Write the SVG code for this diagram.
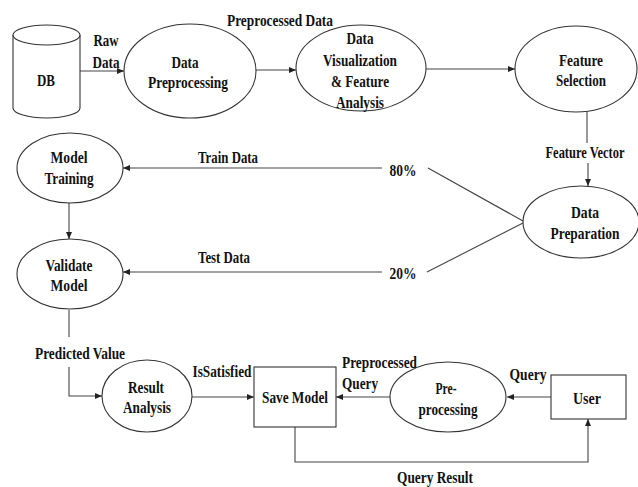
<svg xmlns="http://www.w3.org/2000/svg" width="638" height="487" viewBox="0 0 638 487">
<defs>
<marker id="ah" markerUnits="userSpaceOnUse" markerWidth="7" markerHeight="6" refX="7" refY="3" orient="auto">
<path d="M0,0 L7,3 L0,6 z" fill="#222"/>
</marker>
<style>
.s{fill:#fff;stroke:#333;stroke-width:1.1}
.c{fill:none;stroke:#444;stroke-width:1.1}
.a{marker-end:url(#ah)}
text{font-weight:bold;font-size:16px;fill:#111;text-anchor:middle;dominant-baseline:central}
.l{text-anchor:start}
</style>
</defs>
<rect width="638" height="487" fill="#fff"/>
<g id="connectors">
<path class="c a" d="M80,71 H124"/>
<path class="c a" d="M255,70 H296"/>
<path class="c a" d="M426,69 H515"/>
<path class="c" d="M587,112 V143"/>
<path class="c a" d="M588,163 V186"/>
<path class="c" d="M428,168 L523,221"/>
<path class="c" d="M427,272 L523,223"/>
<path class="c a" d="M382,168 H123"/>
<path class="c a" d="M382,272 H123"/>
<path class="c a" d="M69,203 V239"/>
<path class="c" d="M69,310 V337"/>
<path class="c a" d="M69,367 V396 H102"/>
<path class="c a" d="M192,397 H254"/>
<path class="c a" d="M390,397 H336"/>
<path class="c a" d="M551,397 H507"/>
<path class="c a" d="M295,427 V462 H588 V419"/>
</g>
<g font-family="'Liberation Serif', 'Times New Roman', serif">
<g id="labels">
<text x="106" y="40" textLength="25" lengthAdjust="spacingAndGlyphs">Raw</text>
<text x="106" y="62" textLength="27" lengthAdjust="spacingAndGlyphs">Data</text>
<text x="280" y="20" textLength="106" lengthAdjust="spacingAndGlyphs">Preprocessed Data</text>
<text transform="translate(585,152) scale(0.78,1)" x="0" y="0">Feature Vector</text>
<text x="403" y="170" textLength="27" lengthAdjust="spacingAndGlyphs">80%</text>
<text x="403" y="273" textLength="27" lengthAdjust="spacingAndGlyphs">20%</text>
<text x="228" y="157" textLength="60" lengthAdjust="spacingAndGlyphs">Train Data</text>
<text x="224" y="257" textLength="52" lengthAdjust="spacingAndGlyphs">Test Data</text>
<text x="80" y="353" textLength="90" lengthAdjust="spacingAndGlyphs">Predicted Value</text>
<text x="222" y="371" textLength="59" lengthAdjust="spacingAndGlyphs">IsSatisfied</text>
<text class="l" x="342" y="362" textLength="75" lengthAdjust="spacingAndGlyphs">Preprocessed</text>
<text class="l" x="342" y="383" textLength="36" lengthAdjust="spacingAndGlyphs">Query</text>
<text x="528" y="374" textLength="37" lengthAdjust="spacingAndGlyphs">Query</text>
<text x="435" y="477" textLength="76" lengthAdjust="spacingAndGlyphs">Query Result</text>
</g>
<g id="db">
<path class="s" d="M13,35 V108 A33.5,10 0 0 0 80,108 V35"/>
<ellipse class="s" cx="46.5" cy="35" rx="33.5" ry="10"/>
<text x="46" y="80" textLength="18" lengthAdjust="spacingAndGlyphs">DB</text>
</g>
<g id="data-preprocessing">
<ellipse class="s" cx="190" cy="71" rx="66" ry="47"/>
<text x="185" y="62" textLength="27" lengthAdjust="spacingAndGlyphs">Data</text>
<text x="188" y="82" textLength="80" lengthAdjust="spacingAndGlyphs">Preprocessing</text>
</g>
<g id="data-visualization">
<ellipse class="s" cx="361" cy="68" rx="65" ry="43"/>
<text x="360" y="38" textLength="27" lengthAdjust="spacingAndGlyphs">Data</text>
<text x="360" y="60" textLength="74" lengthAdjust="spacingAndGlyphs">Visualization</text>
<text x="360" y="81" textLength="58" lengthAdjust="spacingAndGlyphs">&amp; Feature</text>
<text x="360" y="102" textLength="48" lengthAdjust="spacingAndGlyphs">Analysis</text>
</g>
<g id="feature-selection">
<ellipse class="s" cx="576" cy="69" rx="61" ry="43"/>
<text x="581" y="60" textLength="44" lengthAdjust="spacingAndGlyphs">Feature</text>
<text x="581" y="80" textLength="50" lengthAdjust="spacingAndGlyphs">Selection</text>
</g>
<g id="data-preparation">
<ellipse class="s" cx="581" cy="222" rx="58" ry="36"/>
<text x="585" y="212" textLength="28" lengthAdjust="spacingAndGlyphs">Data</text>
<text x="585" y="233" textLength="69" lengthAdjust="spacingAndGlyphs">Preparation</text>
</g>
<g id="model-training">
<ellipse class="s" cx="70" cy="168" rx="53" ry="35"/>
<text x="69" y="157" textLength="37" lengthAdjust="spacingAndGlyphs">Model</text>
<text x="69" y="178" textLength="49" lengthAdjust="spacingAndGlyphs">Training</text>
</g>
<g id="validate-model">
<ellipse class="s" cx="70" cy="274" rx="53" ry="35"/>
<text x="69" y="265" textLength="47" lengthAdjust="spacingAndGlyphs">Validate</text>
<text x="69" y="285" textLength="37" lengthAdjust="spacingAndGlyphs">Model</text>
</g>
<g id="result-analysis">
<ellipse class="s" cx="147" cy="396" rx="45" ry="36"/>
<text x="146" y="387" textLength="36" lengthAdjust="spacingAndGlyphs">Result</text>
<text x="147" y="407" textLength="48" lengthAdjust="spacingAndGlyphs">Analysis</text>
</g>
<g id="save-model">
<rect class="s" x="254" y="367" width="82" height="60"/>
<text x="295" y="397" textLength="66" lengthAdjust="spacingAndGlyphs">Save Model</text>
</g>
<g id="pre-processing">
<ellipse class="s" cx="448" cy="397" rx="58" ry="35"/>
<text x="446" y="388" textLength="21" lengthAdjust="spacingAndGlyphs">Pre-</text>
<text x="448" y="409" textLength="59" lengthAdjust="spacingAndGlyphs">processing</text>
</g>
<g id="user">
<rect class="s" x="551" y="375" width="75" height="44"/>
<text x="587" y="398" textLength="28" lengthAdjust="spacingAndGlyphs">User</text>
</g>
</g>
</svg>
